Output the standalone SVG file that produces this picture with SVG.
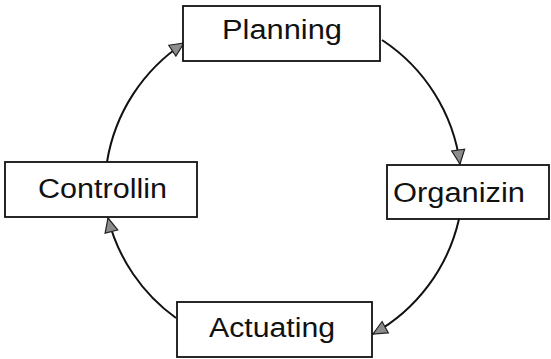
<svg xmlns="http://www.w3.org/2000/svg" width="551" height="359" viewBox="0 0 551 359">
  <style>
    .box { fill: #ffffff; stroke: #111111; stroke-width: 1.8; }
    .label { font-family: "Liberation Sans", Arial, sans-serif; font-size: 27px; fill: #111111; }
    .conn { fill: none; stroke: #111111; stroke-width: 2; }
  </style>
  <defs>
    <marker id="head" viewBox="0 0 16 16" refX="15" refY="8" markerWidth="16" markerHeight="16" markerUnits="userSpaceOnUse" orient="auto">
      <path d="M1,1.5 L15,8 L1,14.5 Z" fill="#8c8c8c" stroke="#222222" stroke-width="1.2" stroke-linejoin="miter"/>
    </marker>
  </defs>

  <!-- cycle connectors -->
  <g id="connectors">
    <path class="conn" d="M382,40 A176,176 0 0 1 460,164" marker-end="url(#head)"/>
    <path class="conn" d="M459,219 A176,176 0 0 1 373,334" marker-end="url(#head)"/>
    <path class="conn" d="M176,318 A176,176 0 0 1 108,218" marker-end="url(#head)"/>
    <path class="conn" d="M107,162 A176,176 0 0 1 184,43" marker-end="url(#head)"/>
  </g>

  <g id="planning">
    <rect class="box" x="183" y="6" width="197" height="55"/>
    <text class="label" x="222" y="39" textLength="120" lengthAdjust="spacingAndGlyphs">Planning</text>
  </g>

  <g id="organizing">
    <rect class="box" x="387" y="165" width="162" height="54"/>
    <text class="label" x="393" y="202" textLength="132" lengthAdjust="spacingAndGlyphs">Organizin</text>
  </g>

  <g id="actuating">
    <rect class="box" x="177" y="302" width="195" height="55"/>
    <text class="label" x="209" y="337" textLength="126" lengthAdjust="spacingAndGlyphs">Actuating</text>
  </g>

  <g id="controlling">
    <rect class="box" x="5" y="162" width="192" height="55"/>
    <text class="label" x="38" y="198" textLength="129" lengthAdjust="spacingAndGlyphs">Controllin</text>
  </g>
</svg>
